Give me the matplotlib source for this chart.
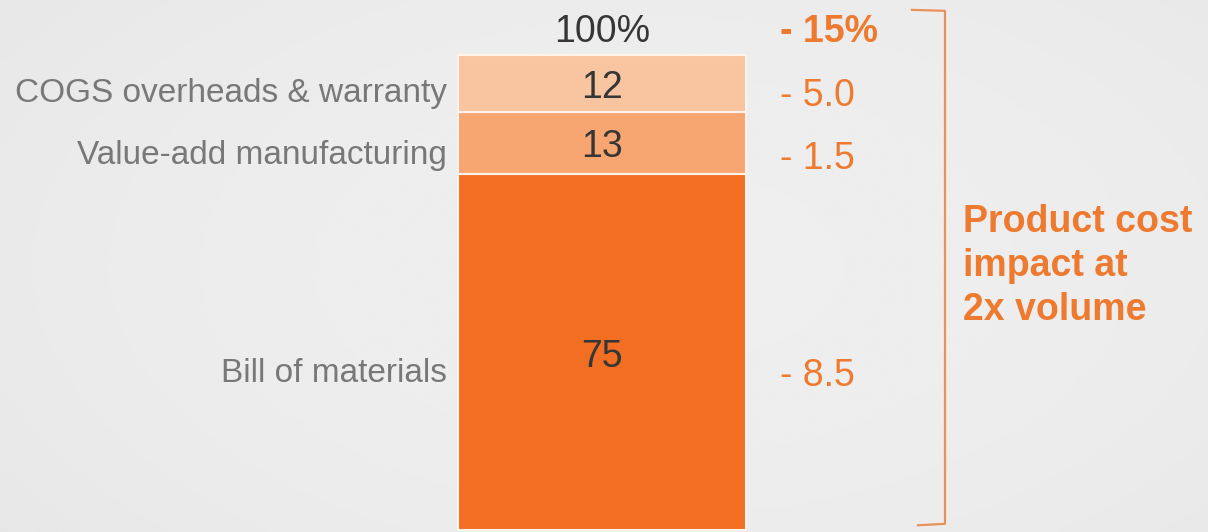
import matplotlib
matplotlib.use("Agg")
from matplotlib import pyplot as plt
import numpy as np

# data
segments = ["Bill of materials", "Value-add manufacturing", "COGS overheads & warranty"]
shares = [75, 13, 12]
savings = ["- 8.5", "- 1.5", "- 5.0"]
total_label = "100%"
total_saving = "- 15%"
note = "Product cost\nimpact at\n2x volume"

# style
SEG_COLORS = ["#F26E22", "#F7A672", "#F9C4A0"]
ORANGE = "#EE7A30"
GRAY = "#787878"
DARK = "#363636"
LEFT_NUDGE = [-4.6, -2.7, -2.0]
RIGHT_NUDGE = [-5.1, -3.3, -2.6]
NUM_NUDGE = [-1.0, -0.9, -1.0]

plt.rcParams['font.family'] = ['Liberation Sans', 'DejaVu Sans']

fig = plt.figure(figsize=(12.08, 5.32), dpi=100)
ax = fig.add_axes([0, 0, 1, 1])
ax.set_xlim(0, 1208)
ax.set_ylim(-0.42, 111.58)
ax.axis("off")

# background: soft radial gradient
yy, xx = np.mgrid[0:1:200j, 0:1:400j]
r = np.sqrt(((xx - 0.55) / 0.9) ** 2 + ((yy - 0.5) / 1.1) ** 2)
bg = 0.935 - 0.05 * r ** 2
ax.imshow(bg, cmap="gray", vmin=0, vmax=1, extent=[0, 1208, -0.42, 111.58],
          aspect="auto", zorder=0)

# stacked bar
bottom = 0
for i, v in enumerate(shares):
    ax.bar(602, v, bottom=bottom, width=288, color=SEG_COLORS[i],
           edgecolor="#FBF3EC", linewidth=1.5, zorder=2)
    mid = bottom + v / 2
    ax.text(602, mid + NUM_NUDGE[i], str(v), ha="center", va="center",
            fontsize=27, color=DARK, zorder=3)
    ax.text(447, mid + LEFT_NUDGE[i], segments[i], ha="right", va="center",
            fontsize=24, color=GRAY, zorder=3)
    ax.text(780, mid + RIGHT_NUDGE[i], savings[i], ha="left", va="center",
            fontsize=27, color=ORANGE, zorder=3)
    bottom += v

total = sum(shares)
ax.text(602, total + 4.9, total_label, ha="center", va="center",
        fontsize=27, color=DARK, zorder=3)
ax.text(780, total + 4.9, total_saving, ha="left", va="center",
        fontsize=27, color=ORANGE, fontweight="bold", zorder=3)

# bracket
ax.plot([912, 945, 945, 918], [total + 9.5, total + 9.3, 1.3, 1.0],
        color="#E8915A", lw=1.6, zorder=3, solid_joinstyle="round")

ax.text(963, 55.6, note, ha="left", va="center", fontsize=27,
        fontweight="bold", color=ORANGE, linespacing=1.3, zorder=3)

fig.savefig("out.png", dpi=100)
